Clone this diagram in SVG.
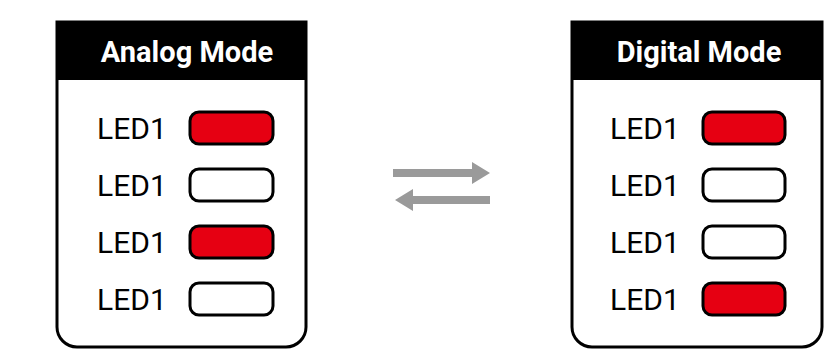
<svg xmlns="http://www.w3.org/2000/svg" width="828" height="350" viewBox="0 0 828 350">
<style>
.panel{fill:#fff;stroke:#000;stroke-width:3}
.hdr{fill:#000}
.title{font-family:Roboto,"Noto Sans",sans-serif;font-weight:bold;font-size:29px;fill:#fff;text-anchor:middle}
.lbl{font-family:Roboto,"Noto Sans",sans-serif;font-size:30px;fill:#000}
.on{fill:#e60012;stroke:#000;stroke-width:3}
.off{fill:#fff;stroke:#000;stroke-width:3}
.arr{fill:#9a9a9a}
</style>
<rect width="828" height="350" fill="#fff"/>
<g id="analog">
<path class="panel" d="M57,22 H306 V327 A20,20 0 0 1 286,347 H77 A20,20 0 0 1 57,327 Z"/>
<rect class="hdr" x="57" y="22" width="249" height="58"/>
<text class="title" x="187" y="62">Analog Mode</text>
<text class="lbl" x="97" y="139">LED1</text>
<rect class="on" x="190" y="112" width="83" height="32" rx="9"/>
<text class="lbl" x="97" y="196">LED1</text>
<rect class="off" x="190" y="169" width="83" height="32" rx="9"/>
<text class="lbl" x="97" y="253">LED1</text>
<rect class="on" x="190" y="226" width="83" height="32" rx="9"/>
<text class="lbl" x="97" y="310">LED1</text>
<rect class="off" x="190" y="283" width="83" height="32" rx="9"/>
</g>
<g id="digital">
<path class="panel" d="M572,22 H822 V327 A20,20 0 0 1 802,347 H592 A20,20 0 0 1 572,327 Z"/>
<rect class="hdr" x="572" y="22" width="250" height="58"/>
<text class="title" x="699" y="62">Digital Mode</text>
<text class="lbl" x="610" y="139">LED1</text>
<rect class="on" x="703" y="112" width="82" height="32" rx="9"/>
<text class="lbl" x="610" y="196">LED1</text>
<rect class="off" x="703" y="169" width="82" height="32" rx="9"/>
<text class="lbl" x="610" y="253">LED1</text>
<rect class="off" x="703" y="226" width="82" height="32" rx="9"/>
<text class="lbl" x="610" y="310">LED1</text>
<rect class="on" x="703" y="283" width="82" height="32" rx="9"/>
</g>
<g id="connectors">
<polygon class="arr" points="393,169 472,169 472,162 490,173 472,184 472,177 393,177"/>
<polygon class="arr" points="490,196 413,196 413,189 395,200 413,211 413,204 490,204"/>
</g>
</svg>
